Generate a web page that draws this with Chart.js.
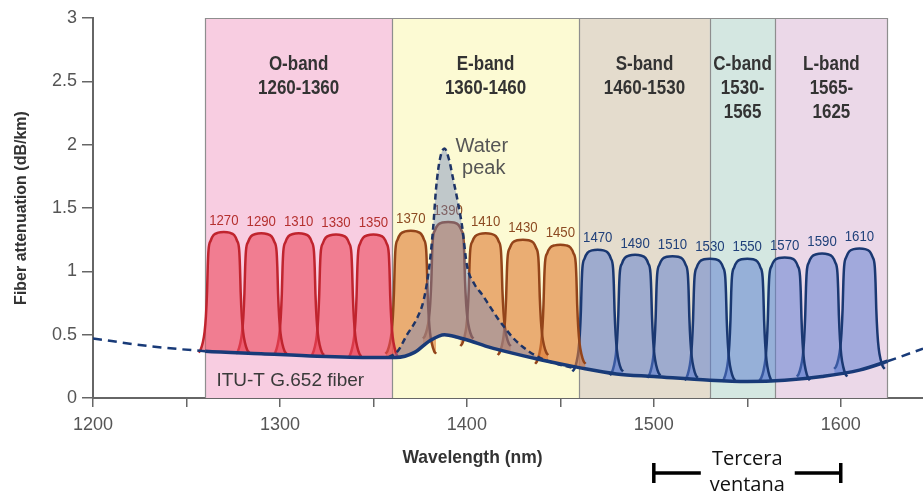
<!DOCTYPE html>
<html>
<head>
<meta charset="utf-8">
<script src="https://cdn.jsdelivr.net/npm/chart.js@4.4.1/dist/chart.umd.min.js"></script>
<style>
    html, body { margin: 0; padding: 0; background: #fff; }
    canvas { display: block; }
</style>
</head>
<body>
<canvas id="bands" width="923" height="494"></canvas>
<script>
// fiber loss, G.652 (nm / dB per km)
const fiberNm = [1200, 1230, 1260, 1290, 1320, 1350, 1362, 1372, 1380, 1388, 1395, 1402, 1410, 1420, 1440, 1460, 1480, 1500, 1530, 1550, 1570, 1590, 1610, 1625, 1644];
const fiberDb = [0.47, 0.41, 0.37, 0.35, 0.33, 0.32, 0.32, 0.36, 0.45, 0.50, 0.48, 0.45, 0.41, 0.37, 0.30, 0.24, 0.19, 0.17, 0.14, 0.13, 0.14, 0.17, 0.22, 0.29, 0.39];

// water absorption peak
const waterNm = [1358, 1363, 1368, 1373, 1377, 1380, 1382, 1383.5, 1385.5, 1388, 1390.5, 1392.5, 1395, 1397.5, 1400, 1404, 1408, 1412, 1416, 1420, 1425, 1432, 1440, 1448, 1456];
const waterDb = [0.32, 0.37, 0.50, 0.62, 0.78, 1.05, 1.35, 1.65, 1.88, 1.97, 1.88, 1.74, 1.56, 1.35, 1.05, 0.90, 0.82, 0.73, 0.64, 0.56, 0.47, 0.38, 0.31, 0.27, 0.24];

// CWDM channels: centre, top of passband, loss floor under it
const channelNm = [1270, 1290, 1310, 1330, 1350, 1370, 1390, 1410, 1430, 1450, 1470, 1490, 1510, 1530, 1550, 1570, 1590, 1610];
const channelPeak = [1.31, 1.30, 1.30, 1.29, 1.29, 1.32, 1.39, 1.30, 1.25, 1.21, 1.17, 1.13, 1.12, 1.10, 1.10, 1.11, 1.14, 1.18];
const channelFloor = [0.36, 0.35, 0.34, 0.33, 0.32, 0.35, 0.47, 0.41, 0.34, 0.27, 0.21, 0.18, 0.16, 0.14, 0.13, 0.14, 0.17, 0.23];

// passband of one channel: offset from centre (nm) and fraction of height
const passOffset = [-13.5, -12.5, -11.3, -10.3, -9.6, -9.0, -8.6, -8.2, -7.0, -5.5, -3, 0, 3, 5.5, 7.0, 8.2, 8.6, 9.0, 9.6, 10.3, 11.3, 12.5, 13.5];
const passLevel = [0, 0.02, 0.08, 0.17, 0.3, 0.5, 0.72, 0.85, 0.93, 0.975, 0.995, 1, 0.995, 0.975, 0.93, 0.85, 0.72, 0.5, 0.3, 0.17, 0.08, 0.02, 0];

// ITU bands
const bandNames = ['O-band', 'E-band', 'S-band', 'C-band', 'L-band'];
const bandFrom = [1260, 1360, 1460, 1530, 1565];
const bandTo = [1360, 1460, 1530, 1565, 1625];

const xTicks = [1200, 1250, 1300, 1350, 1400, 1450, 1500, 1550, 1600];
const yTicks = [0, 0.5, 1, 1.5, 2, 2.5, 3];

const bandFill = ['#f8cde1', '#fcfad3', '#e4dccd', '#d4e7e1', '#ebd8e8'];
const chanLine = ['#c0242e', '#93441a', '#1a3872'];
const chanFill = ['rgba(236,72,92,0.6)', 'rgba(222,122,52,0.6)', 'rgba(88,122,208,0.5)'];
const chanText = ['#b5302f', '#8c4a22', '#20407a'];
const sans = "'Liberation Sans', Arial, sans-serif";

function groupOf(nm) {
    return nm < 1360 ? 0 : (nm < 1460 ? 1 : 2);
}

// condensed look: squeeze the text horizontally
function narrowText(ctx, text, x, y, k) {
    ctx.save();
    ctx.translate(x, y);
    ctx.scale(k, 1);
    ctx.fillText(text, 0, 0);
    ctx.restore();
}

const fiberPoints = fiberNm.map((x, i) => ({ x: x, y: fiberDb[i] }));
const waterPoints = waterNm.map((x, i) => ({ x: x, y: waterDb[i] }));

const channelSets = channelNm.map((c, i) => {
    const g = groupOf(c);
    return {
        data: passOffset.map((d, k) => ({
            x: c + d,
            y: channelFloor[i] + passLevel[k] * (channelPeak[i] - channelFloor[i])
        })),
        borderColor: chanLine[g],
        backgroundColor: chanFill[g],
        borderWidth: 2.5,
        cubicInterpolationMode: 'monotone',
        fill: { target: 0 },
        order: 2
    };
});

const px = (chart, v) => chart.scales.x.getPixelForValue(v);
const py = (chart, v) => chart.scales.y.getPixelForValue(v);

// coloured band boxes, band names and channel numbers behind the curves
const bandBoxes = {
    id: 'bandBoxes',
    beforeDatasetsDraw(chart) {
        const ctx = chart.ctx;
        const top = chart.chartArea.top, bottom = chart.chartArea.bottom;
        ctx.save();
        bandNames.forEach((name, i) => {
            const x0 = px(chart, bandFrom[i]), x1 = px(chart, bandTo[i]);
            ctx.fillStyle = bandFill[i];
            ctx.fillRect(x0, top, x1 - x0, bottom - top);
        });
        ctx.strokeStyle = '#8e8e8e';
        ctx.lineWidth = 1.2;
        ctx.beginPath();
        ctx.moveTo(px(chart, bandFrom[0]), top + 0.5);
        ctx.lineTo(px(chart, bandTo[bandTo.length - 1]), top + 0.5);
        bandFrom.concat([bandTo[bandTo.length - 1]]).forEach(v => {
            const x = Math.round(px(chart, v)) + 0.5;
            ctx.moveTo(x, top);
            ctx.lineTo(x, bottom);
        });
        ctx.stroke();

        ctx.fillStyle = '#333';
        ctx.font = 'bold 20px ' + sans;
        ctx.textAlign = 'center';
        ctx.textBaseline = 'middle';
        bandNames.forEach((name, i) => {
            const cx = (px(chart, bandFrom[i]) + px(chart, bandTo[i])) / 2;
            const lines = bandTo[i] - bandFrom[i] < 70
                ? [name, bandFrom[i] + '-', String(bandTo[i])]
                : [name, bandFrom[i] + '-' + bandTo[i]];
            lines.forEach((t, k) => narrowText(ctx, t, cx, 64 + k * 24, 0.85));
        });

        ctx.font = '15px ' + sans;
        ctx.textBaseline = 'bottom';
        channelNm.forEach((c, i) => {
            ctx.fillStyle = chanText[groupOf(c)];
            narrowText(ctx, String(c), px(chart, c), py(chart, channelPeak[i]) - 4, 0.88);
        });
        ctx.restore();
    },
    afterDatasetsDraw(chart) {
        const ctx = chart.ctx;
        ctx.save();
        ctx.fillStyle = '#555';
        ctx.font = '20px ' + sans;
        ctx.textAlign = 'center';
        ctx.textBaseline = 'middle';
        ctx.fillText('Water', px(chart, 1408), 146);
        ctx.fillText('peak', px(chart, 1409), 168);

        ctx.fillStyle = '#3a3a3a';
        ctx.font = '19px ' + sans;
        ctx.textAlign = 'left';
        ctx.fillText('ITU-T G.652 fiber', px(chart, 1266), 381);
        ctx.restore();
    },
    afterDraw(chart) {
        const ctx = chart.ctx;
        ctx.save();
        ctx.fillStyle = '#333';
        ctx.font = 'bold 19px ' + sans;
        ctx.textAlign = 'center';
        ctx.textBaseline = 'middle';
        narrowText(ctx, 'Wavelength (nm)', px(chart, 1403), 458, 0.92);

        // third window bracket, 1500 - 1600 nm
        const x0 = px(chart, 1500), x1 = px(chart, 1600), y = 473;
        ctx.strokeStyle = '#000';
        ctx.lineWidth = 3.5;
        ctx.beginPath();
        ctx.moveTo(x0, y - 10); ctx.lineTo(x0, y + 10);
        ctx.moveTo(x0, y); ctx.lineTo(x0 + 47, y);
        ctx.moveTo(x1 - 46, y); ctx.lineTo(x1, y);
        ctx.moveTo(x1, y - 10); ctx.lineTo(x1, y + 10);
        ctx.stroke();
        ctx.fillStyle = '#111';
        ctx.font = "20px 'Open Sans', sans-serif";
        ctx.fillText('Tercera', (x0 + x1) / 2, 459);
        ctx.fillText('ventana', (x0 + x1) / 2, 485);
        ctx.restore();
    }
};

const chart = new Chart(document.getElementById('bands'), {
    type: 'line',
    data: {
        datasets: [{
            data: fiberPoints,
            borderColor: '#183a78',
            borderWidth: 3.5,
            cubicInterpolationMode: 'monotone',
            fill: false,
            order: 0,
            segment: {
                borderDash: c => (c.p1.parsed.x <= bandFrom[0] || c.p0.parsed.x >= bandTo[bandTo.length - 1]) ? [9, 6] : undefined,
                borderWidth: c => (c.p1.parsed.x <= bandFrom[0] || c.p0.parsed.x >= bandTo[bandTo.length - 1]) ? 2.5 : undefined
            }
        }, {
            data: waterPoints,
            borderColor: '#1e3466',
            borderWidth: 2.5,
            borderDash: [6, 4],
            backgroundColor: 'rgba(110,130,190,0.42)',
            cubicInterpolationMode: 'monotone',
            fill: { target: 0 },
            order: 1
        }].concat(channelSets)
    },
    options: {
        responsive: false,
        animation: false,
        devicePixelRatio: 1,
        elements: { point: { radius: 0 } },
        layout: { padding: { top: 18, left: 0, right: 0, bottom: 0 } },
        plugins: {
            legend: { display: false },
            tooltip: { enabled: false }
        },
        scales: {
            x: {
                type: 'linear',
                min: 1200,
                max: 1644,
                afterBuildTicks: s => { s.ticks = xTicks.map(v => ({ value: v })); },
                afterFit: s => { s.height = 96; },
                grid: { drawOnChartArea: false, drawTicks: true, tickLength: 9, color: '#666', lineWidth: 1.5 },
                border: { display: true, color: '#666', width: 2 },
                ticks: {
                    autoSkip: false,
                    maxRotation: 0,
                    padding: 7,
                    color: '#555',
                    font: { family: sans, size: 18 },
                    callback: v => (v % 100 === 0 ? String(v) : '')
                }
            },
            y: {
                min: 0,
                max: 3,
                afterBuildTicks: s => { s.ticks = yTicks.map(v => ({ value: v })); },
                afterFit: s => { s.width = 93; },
                grid: { drawOnChartArea: false, drawTicks: true, tickLength: 11, color: '#666', lineWidth: 1.5 },
                border: { display: true, color: '#666', width: 2 },
                ticks: {
                    padding: 5,
                    color: '#555',
                    font: { family: sans, size: 18 },
                    callback: v => String(v)
                },
                title: {
                    display: true,
                    text: 'Fiber attenuation (dB/km)',
                    color: '#333',
                    font: { family: sans, size: 16, weight: 'bold' },
                    padding: { top: 12, bottom: 0 }
                }
            }
        }
    },
    plugins: [bandBoxes]
});
</script>
</body>
</html>
